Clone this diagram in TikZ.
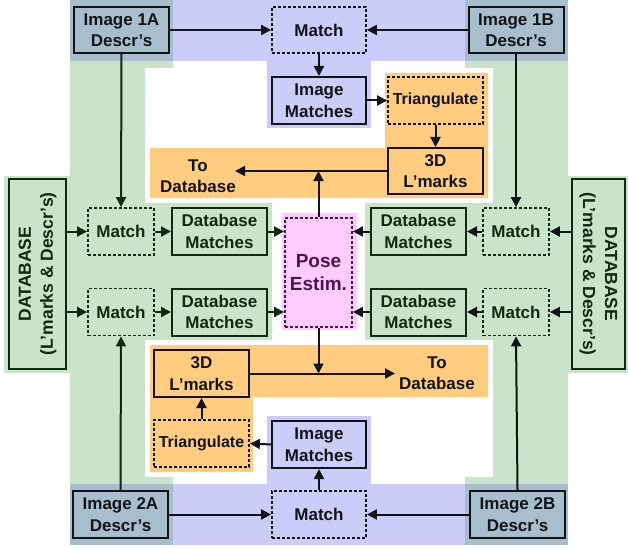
\documentclass[tikz,border=0pt]{standalone}
\usepackage{fontspec}
\setmainfont{Liberation Sans}
\usetikzlibrary{arrows.meta}
\definecolor{grn}{HTML}{C9E4CA}
\definecolor{prp}{HTML}{CCCCF8}
\definecolor{blg}{HTML}{A9BECD}
\definecolor{org}{HTML}{FFCC80}
\definecolor{pnk}{HTML}{FFCCFF}
\definecolor{dgrn}{HTML}{0E2A10}
\definecolor{ink}{HTML}{111418}
\definecolor{posec}{HTML}{4F144F}
\newcommand\bxfont{\fontsize{17}{21.5}\selectfont\bfseries}
\tikzset{
  sbox/.style={draw=#1, text=#1, line width=2pt, inner sep=0pt, align=center, font=\bxfont},
  sbox/.default=ink,
  dbox/.style={sbox=#1, dash pattern=on 3pt off 2pt, line width=1.8pt},
  dbox/.default=ink,
  arr/.style={draw=#1, line width=2pt, -{Triangle[length=10pt,width=10pt]}},
  arr/.default=ink,
  wide/.style={minimum width=95pt, minimum height=47pt},
  narrow/.style={minimum width=66pt, minimum height=47pt},
  dbbox/.style={sbox=dgrn, minimum width=190pt, font=\fontsize{17.5}{22}\selectfont\bfseries}
}
\begin{document}
\begin{tikzpicture}[x=1pt,y=-1pt]
\useasboundingbox (0,0) rectangle (628,548);
% background regions
\fill[grn] (70,61) -- (173,61) -- (173,68) -- (145,68) -- (145,203) -- (272,203) -- (272,340) -- (145,340) -- (145,477) -- (173,477) -- (173,484) -- (70,484) -- (70,373) -- (4,373) -- (4,176) -- (70,176) -- cycle;
\fill[grn] (465,61) -- (568,61) -- (568,176) -- (628,176) -- (628,373) -- (568,373) -- (568,484) -- (465,484) -- (465,477) -- (493,477) -- (493,340) -- (365,340) -- (365,203) -- (493,203) -- (493,68) -- (465,68) -- cycle;
\fill[prp] (173,0) -- (465,0) -- (465,61) -- (371,61) -- (371,128) -- (267,128) -- (267,61) -- (173,61) -- cycle;
\fill[prp] (173,484) -- (267,484) -- (267,416) -- (371,416) -- (371,484) -- (465,484) -- (465,545) -- (173,545) -- cycle;
\fill[blg] (70,0) rectangle (173,61);
\fill[blg] (465,0) rectangle (568,61);
\fill[blg] (70,484) rectangle (173,545);
\fill[blg] (465,484) rectangle (568,545);
\fill[org] (150,148) -- (385,148) -- (385,73) -- (488,73) -- (488,198) -- (150,198) -- cycle;
\fill[org] (150,345) -- (488,345) -- (488,397) -- (253,397) -- (253,472) -- (150,472) -- cycle;
\fill[pnk] (282,213) rectangle (357,330);

% nodes
\node[sbox, wide, minimum height=46pt] (i1a) at (121.5,30) {Image 1A\\Descr’s};
\node[sbox, wide, minimum height=46pt] (i1b) at (516,30) {Image 1B\\Descr’s};
\node[sbox, wide, minimum height=47pt] (i2a) at (120.5,514.5) {Image 2A\\Descr’s};
\node[sbox, wide, minimum height=47pt] (i2b) at (517.5,514.5) {Image 2B\\Descr’s};
\node[dbox, minimum width=94pt, minimum height=46pt] (mt) at (319,30) {Match};
\node[sbox, minimum width=94pt, minimum height=47pt] (imt) at (319,100.5) {Image\\Matches};
\node[dbox, wide, font=\fontsize{16}{20}\selectfont\bfseries] (trt) at (435.5,100.5) {Triangulate};
\node[sbox, wide, minimum height=46pt] (ldt) at (435.5,171) {3D\\L’marks};
\node[font=\bxfont, align=center, text=ink] (tdt) at (198,176) {To\\Database};
\node[dbox, minimum width=94pt, minimum height=47pt] (mb) at (319,514.5) {Match};
\node[sbox, minimum width=94pt, minimum height=47pt] (imb) at (319,444.5) {Image\\Matches};
\node[dbox, wide, font=\fontsize{16}{20}\selectfont\bfseries] (trb) at (201.5,443.5) {Triangulate};
\node[sbox, wide] (ldb) at (201.5,373.5) {3D\\L’marks};
\node[font=\bxfont, align=center, text=ink] (tdb) at (437,373) {To\\Database};
\node[dbox=posec, minimum width=67pt, minimum height=109pt, font=\fontsize{19}{23}\selectfont\bfseries] (pose) at (318.5,272.5) {Pose\\Estim.};
\node[dbbox, minimum height=57pt, rotate=90] (dbl) at (37.5,274) {DATABASE\\(L’marks \& Descr’s)};
\node[dbbox, minimum height=53pt, rotate=-90] (dbr) at (598.5,274) {DATABASE\\(L’marks \& Descr’s)};
\node[dbox=dgrn, narrow] (ml1) at (121,231.5) {Match};
\node[dbox=dgrn, narrow] (ml2) at (121,312) {Match};
\node[sbox=dgrn, wide] (dl1) at (219.5,231.5) {Database\\Matches};
\node[sbox=dgrn, wide] (dl2) at (219.5,312) {Database\\Matches};
\node[dbox=dgrn, narrow] (mr1) at (516,231.5) {Match};
\node[dbox=dgrn, narrow] (mr2) at (516,312) {Match};
\node[sbox=dgrn, wide] (dr1) at (418.5,231.5) {Database\\Matches};
\node[sbox=dgrn, wide] (dr2) at (418.5,312) {Database\\Matches};
\coordinate (tdtend) at (235,171);
\coordinate (tdbend) at (395,373.5);

% connectors: top
\draw[arr] (i1a.east) -- (mt.west);
\draw[arr] (i1b.west) -- (mt.east);
\draw[arr] (mt.south) -- (imt.north);
\draw[arr] (imt.east) -- (trt.west);
\draw[arr] (trt.south) -- (ldt.north);
\draw[arr] (ldt.west) -- (tdtend);
\draw[arr] (pose.north) -- (pose.north |- ldt.west);
% bottom
\draw[arr] (i2a.east) -- (mb.west);
\draw[arr] (i2b.west) -- (mb.east);
\draw[arr] (mb.north) -- (imb.south);
\draw[arr] (imb.west) -- (trb.east);
\draw[arr] (trb.north) -- (ldb.south);
\draw[arr] (ldb.east) -- (tdbend);
\draw[arr] (pose.south) -- (pose.south |- ldb.east);
% left
\draw[arr=dgrn] (i1a.south) -- (ml1.north);
\draw[arr=dgrn] (i2a.north) -- (ml2.south);
\draw[arr=dgrn] (dbl.south |- ml1.west) -- (ml1.west);
\draw[arr=dgrn] (dbl.south |- ml2.west) -- (ml2.west);
\draw[arr=dgrn] (ml1.east) -- (dl1.west);
\draw[arr=dgrn] (ml2.east) -- (dl2.west);
\draw[arr=dgrn] (dl1.east) -- (dl1.east -| pose.west);
\draw[arr=dgrn] (dl2.east) -- (dl2.east -| pose.west);
% right
\draw[arr] (i1b.south) -- (mr1.north);
\draw[arr] (i2b.north) -- (mr2.south);
\draw[arr] (dbr.south |- mr1.east) -- (mr1.east);
\draw[arr] (dbr.south |- mr2.east) -- (mr2.east);
\draw[arr] (mr1.west) -- (dr1.east);
\draw[arr] (mr2.west) -- (dr2.east);
\draw[arr] (dr1.west) -- (dr1.west -| pose.east);
\draw[arr] (dr2.west) -- (dr2.west -| pose.east);
\end{tikzpicture}
\end{document}
